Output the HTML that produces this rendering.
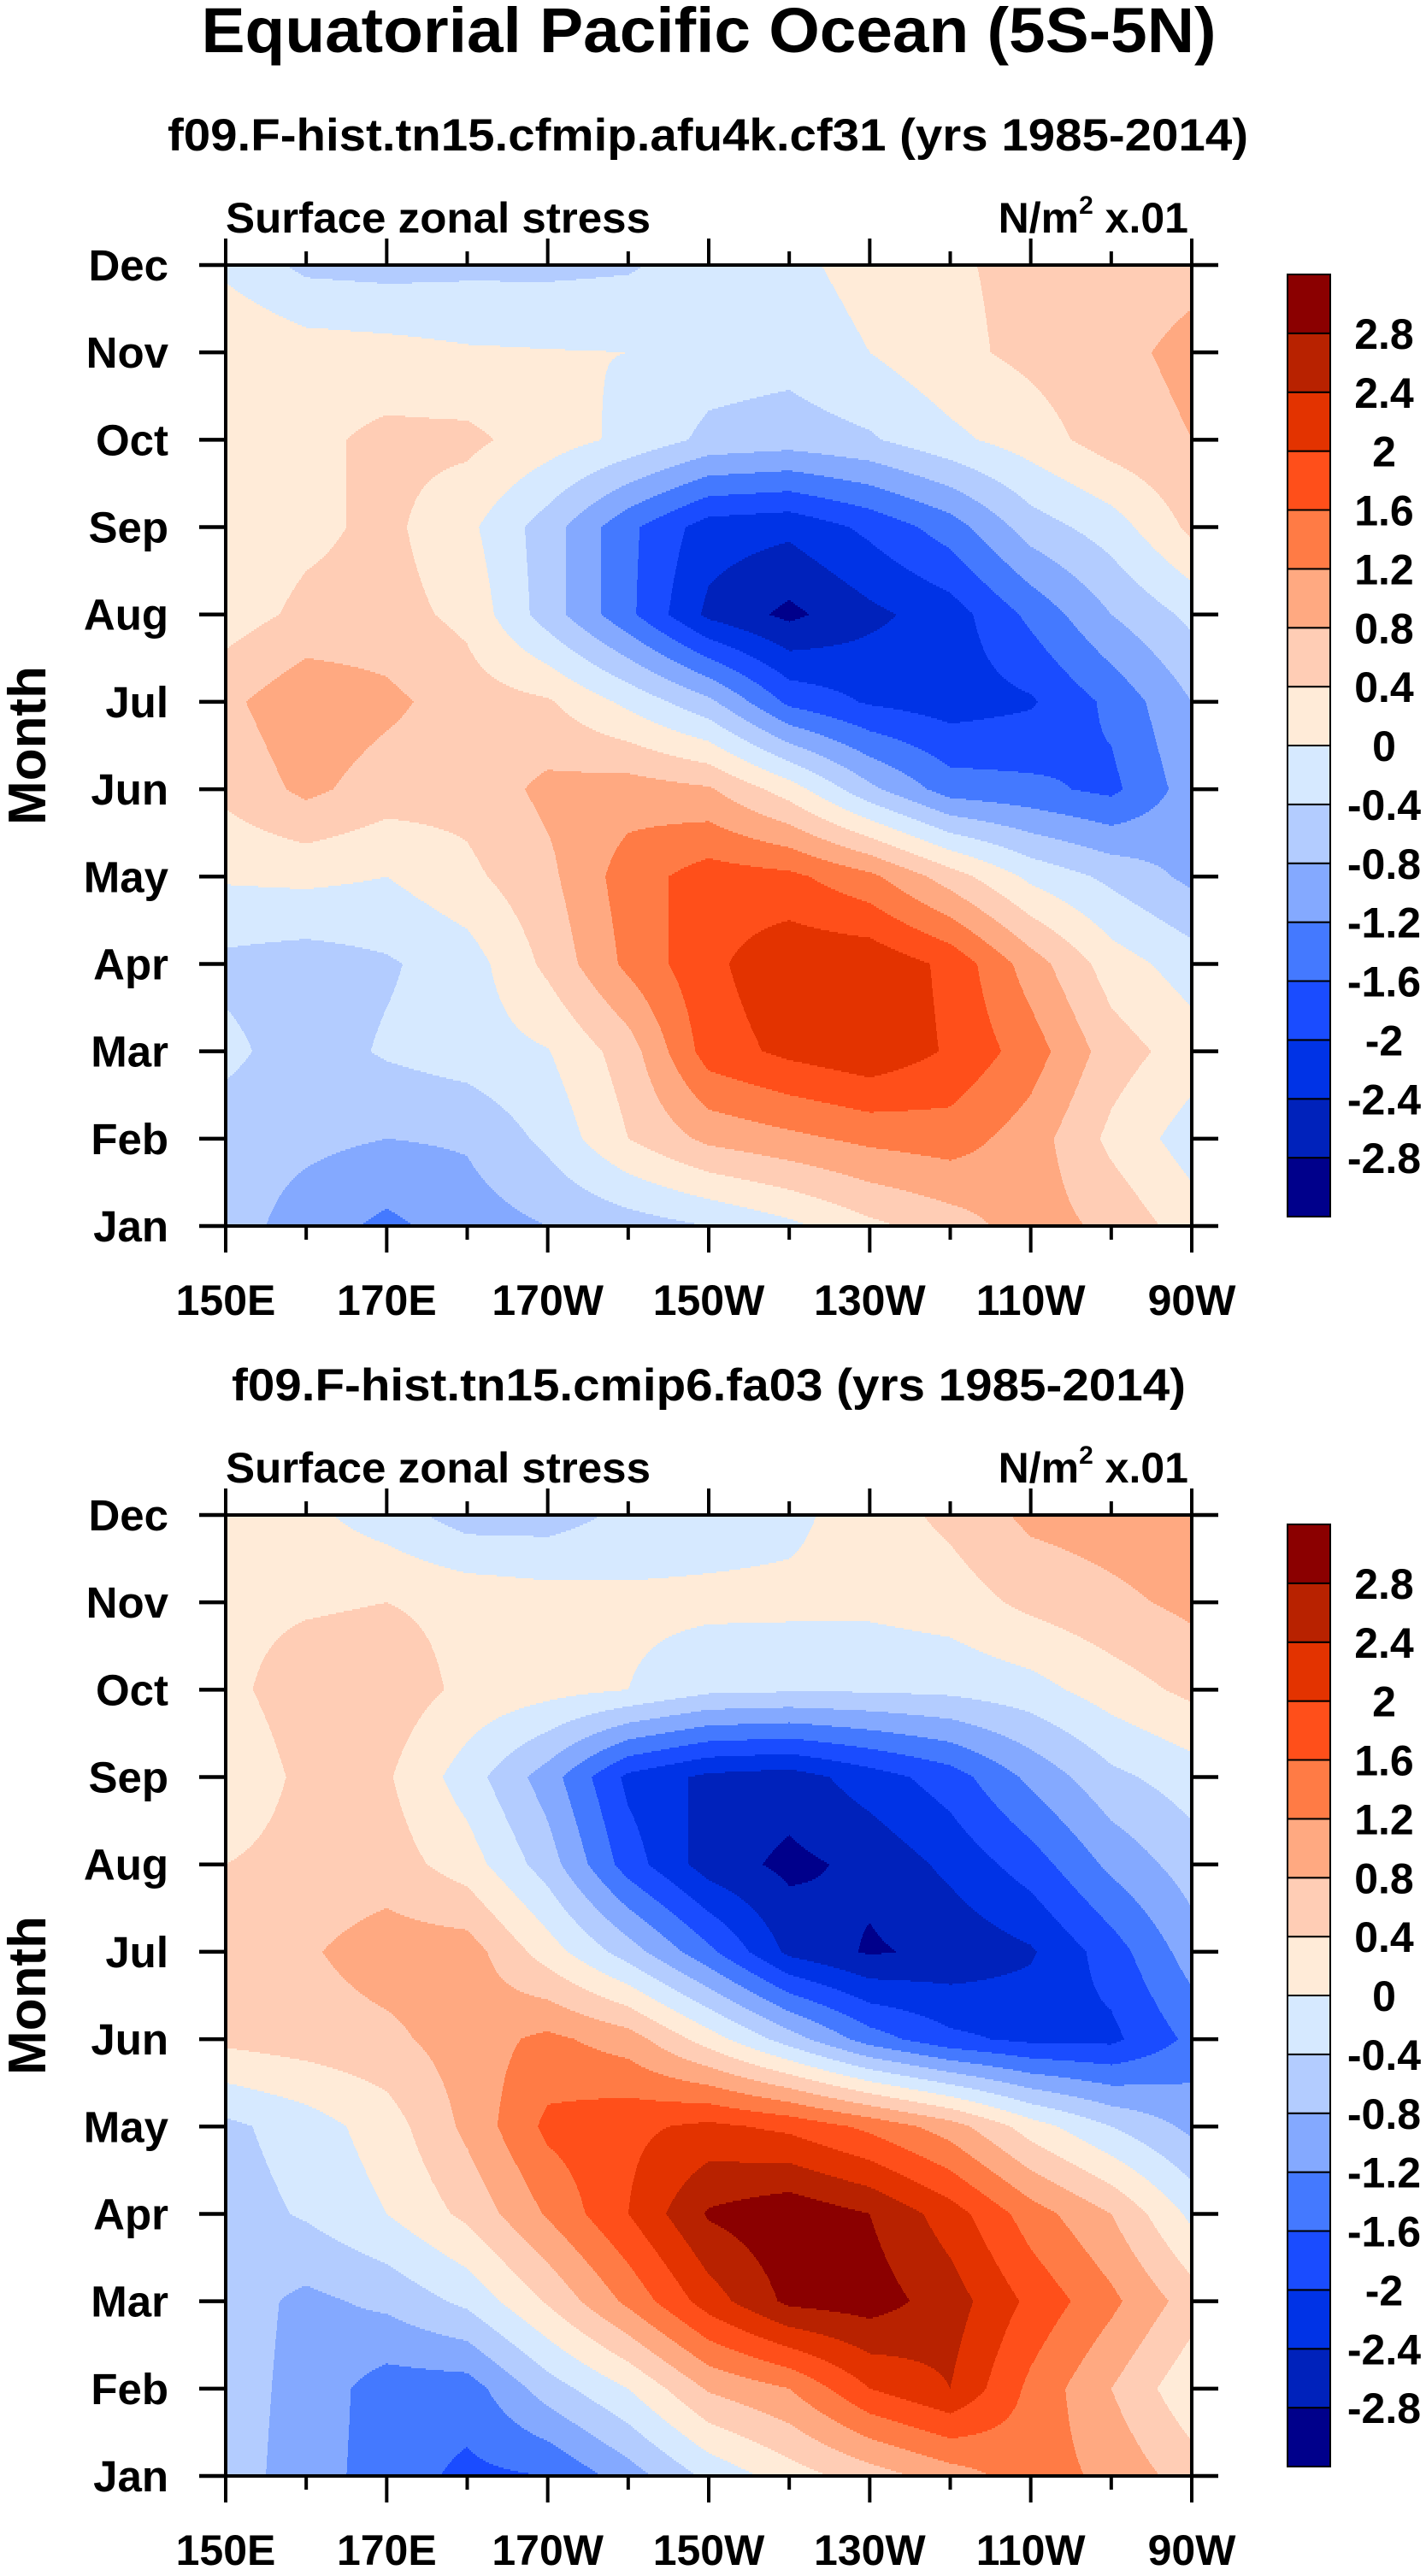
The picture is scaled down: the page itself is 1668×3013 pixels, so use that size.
<!DOCTYPE html>
<html><head><meta charset="utf-8"><style>
html,body{margin:0;padding:0;background:#fff}
svg text{font-family:"Liberation Sans",Arial,sans-serif;font-weight:bold;fill:#000}
</style></head><body>
<svg id="fig" xmlns="http://www.w3.org/2000/svg" width="1668" height="3008" viewBox="0 0 1668 3008">
<text x="829" y="61" font-size="74" text-anchor="middle" textLength="1187" lengthAdjust="spacingAndGlyphs">Equatorial Pacific Ocean (5S-5N)</text>
<g id="g1"></g>
<g id="g2"></g>
</svg>
<script>
const lons=[150,160,170,180,190,200,210,220,230,240,250,260,270];
const months=['Jan','Feb','Mar','Apr','May','Jun','Jul','Aug','Sep','Oct','Nov','Dec'];
const xTickLons=[150,170,190,210,230,250,270];
const xTickLabels=['150E','170E','170W','150W','130W','110W','90W'];
const levels=[-2.8,-2.4,-2,-1.6,-1.2,-0.8,-0.4,0,0.4,0.8,1.2,1.6,2,2.4,2.8];
const levelLabels=['-2.8','-2.4','-2','-1.6','-1.2','-0.8','-0.4','0','0.4','0.8','1.2','1.6','2','2.4','2.8'];
const colors=['#00008b','#0022bb','#0033e6','#1a4cff','#4479ff','#84a9ff','#b3ccff','#d6e9ff','#ffebd8','#ffcdb5','#ffa981','#ff7b45','#ff4f1a','#e33300','#b82200','#8b0000'];
// rows Jan..Dec, columns lons
const stressCf31=[
[-0.6,-1.0,-1.3,-1.0,-0.8,-0.6,-0.4,-0.1,0.3,0.6,1.0,0.7,0.2],
[-0.6,-0.7,-0.8,-0.75,-0.3,0.4,0.9,1.1,1.3,1.4,1.0,0.3,-0.2],
[-0.3,-0.6,-0.35,-0.2,-0.02,0.6,1.8,2.1,2.3,1.95,1.4,0.6,0.2],
[-0.5,-0.6,-0.45,-0.2,0.5,1.3,1.9,2.3,2.3,1.9,1.0,0.2,-0.2],
[0.05,0.1,0.0,0.3,0.7,1.4,1.8,1.7,1.3,0.6,-0.1,-0.5,-0.9],
[0.5,0.9,0.6,0.55,0.9,1.0,0.85,0.2,-0.7,-1.4,-1.5,-1.7,-1.0],
[0.7,1.1,0.9,0.6,0.45,-0.1,-0.7,-1.7,-2.05,-2.2,-2.05,-1.5,-0.8],
[0.2,0.5,0.55,0.3,-0.6,-1.5,-2.5,-2.9,-2.5,-2.2,-1.5,-0.8,-0.3],
[0.1,0.3,0.5,0.1,-0.6,-1.5,-2.2,-2.3,-1.9,-1.4,-0.6,-0.2,0.5],
[0.2,0.3,0.5,0.5,0.2,-0.1,-0.5,-0.6,-0.45,-0.1,0.2,0.6,0.8],
[0.4,0.2,0.15,0.05,0.02,0.0,-0.2,-0.25,0.0,0.3,0.5,0.7,0.9],
[-0.1,-0.5,-0.55,-0.5,-0.5,-0.45,-0.2,-0.1,0.15,0.35,0.5,0.6,0.7]];
const stressFa03=[
[-0.6,-1.0,-1.4,-1.7,-1.6,-1.0,-0.3,0.2,0.6,1.0,1.4,1.1,0.6],
[-0.6,-0.95,-1.4,-1.4,-0.6,0.0,0.85,1.2,2.0,2.4,1.5,0.8,0.1],
[-0.6,-0.9,-0.7,-0.3,0.45,1.3,2.2,2.9,3.0,2.6,1.9,1.3,0.6],
[-0.6,-0.35,0.0,0.5,1.25,2.0,2.85,3.1,2.8,2.2,1.4,0.8,-0.1],
[-0.5,-0.2,0.2,0.9,1.7,1.9,2.1,1.9,1.5,1.0,0.2,-0.4,-0.9],
[0.5,0.6,0.7,1.0,1.3,1.0,0.2,-0.6,-1.4,-1.9,-2.1,-2.1,-1.5],
[0.5,0.75,1.0,1.0,0.2,-0.6,-1.5,-2.5,-2.85,-2.7,-2.45,-1.8,-1.0],
[0.4,0.55,0.6,0.2,-0.6,-1.8,-2.6,-2.9,-2.7,-2.3,-1.8,-1.1,-0.6],
[0.1,0.5,0.45,-0.2,-1.0,-2.1,-2.5,-2.6,-2.2,-1.8,-1.1,-0.5,-0.2],
[0.3,0.6,0.65,0.3,0.15,0.0,-0.3,-0.35,-0.35,-0.3,-0.15,0.2,0.5],
[0.3,0.35,0.4,0.3,0.2,0.1,0.1,0.1,0.1,0.2,0.5,0.7,0.9],
[0.2,0.1,-0.2,-0.6,-0.6,-0.3,-0.2,-0.1,0.2,0.5,0.9,1.0,1.1]];

const NS='http://www.w3.org/2000/svg';
function mk(tag,attrs,parent){const e=document.createElementNS(NS,tag);for(const k in attrs)e.setAttribute(k,attrs[k]);parent.appendChild(e);return e;}
function binOf(v){let i=0;while(i<levels.length&&v>=levels[i])i++;return i;}

function drawPanel(g,data,top,subtitle,subX1,subX2){
  const L=264,R=1394,W=R-L,H=1124,B=top+H;
  const xs=lon=>L+(lon-lons[0])/(lons[lons.length-1]-lons[0])*W;
  const ys=m=>B-m/(months.length-1)*H;
  const st=mk('text',{x:(subX1+subX2)/2,y:top-134,'font-size':53,'text-anchor':'middle',textLength:subX2-subX1,lengthAdjust:'spacingAndGlyphs'},g);
  
  
  st.textContent=subtitle;
  const lt=mk('text',{x:L,y:top-38,'font-size':50,textLength:497,lengthAdjust:'spacingAndGlyphs'},g);
  
  
  lt.textContent='Surface zonal stress';
  const ut=mk('text',{x:R-4,y:top-38,'font-size':50,'text-anchor':'end'},g);
  
  
  ut.innerHTML='N/m<tspan dy="-22" font-size="30">2</tspan><tspan dy="22"> x.01</tspan>';
  // contour fill
  const fill=mk('g',{'shape-rendering':'crispEdges'},g);
  
  
  const nI=lons.length-1,nJ=months.length-1,rowH=2;
  function val(px,py){
    const u=Math.min(nI-1e-9,Math.max(0,px/W*nI)),v=Math.min(nJ-1e-9,Math.max(0,(H-py)/H*nJ));
    const i=Math.floor(u),j=Math.floor(v),fu=u-i,fv=v-j;
    return data[j][i]*(1-fu)*(1-fv)+data[j][i+1]*fu*(1-fv)+data[j+1][i]*(1-fu)*fv+data[j+1][i+1]*fu*fv;
  }
  for(let py=0;py<H;py+=rowH){
    let start=0,cur=binOf(val(0.5,py+rowH/2));
    for(let px=1;px<=W;px++){
      const b=px<W?binOf(val(px+0.5,py+rowH/2)):-1;
      if(b!==cur){
        const r=mk('rect',{x:L+start,y:top+py,width:px-start,height:Math.min(rowH,H-py),fill:colors[cur]},fill);
        
        
        start=px;cur=b;
      }
    }
  }
  // frame
  const fr=mk('rect',{x:L,y:top,width:W,height:H,fill:'none',stroke:'#000','stroke-width':4},g);
  
  
  // month ticks + labels
  months.forEach((m,k)=>{
    const y=ys(k);
    const t1=mk('line',{x1:L-31,x2:L,y1:y,y2:y,stroke:'#000','stroke-width':4.5},g);
    
    
    const t2=mk('line',{x1:R,x2:R+31,y1:y,y2:y,stroke:'#000','stroke-width':4.5},g);
    
    
    const tx=mk('text',{x:197,y:y+18,'font-size':51,'text-anchor':'end'},g);
    
    
    tx.textContent=m;
  });
  const yt=mk('text',{x:53,y:(top+B)/2,'font-size':62,'text-anchor':'middle',transform:`rotate(-90 53 ${(top+B)/2})`},g);
  
  
  yt.textContent='Month';
  // lon ticks
  for(let lon=lons[0];lon<=lons[lons.length-1];lon+=10){
    const x=xs(lon),major=xTickLons.includes(lon),len=major?31:16;
    const a=mk('line',{x1:x,x2:x,y1:B,y2:B+len,stroke:'#000','stroke-width':4},g);
    
    
    const b=mk('line',{x1:x,x2:x,y1:top-len,y2:top,stroke:'#000','stroke-width':4},g);
    
    
  }
  xTickLons.forEach((lon,k)=>{
    const t=mk('text',{x:xs(lon),y:B+104,'font-size':50,'text-anchor':'middle'},g);
    
    
    t.textContent=xTickLabels[k];
  });
  // colorbar
  const cbT=top+11,cbB=top+1113,cbL=1506,cbW=50,n=colors.length,bh=(cbB-cbT)/n;
  const cb=mk('g',{},g);
  
  
  colors.forEach((c,k)=>{
    const r=mk('rect',{x:cbL,y:cbB-(k+1)*bh,width:cbW,height:bh,fill:c,stroke:'#000','stroke-width':2},cb);
    
    
  });
  levels.forEach((lv,k)=>{
    const t=mk('text',{x:1619,y:cbB-(k+1)*bh+18,'font-size':50,'text-anchor':'middle'},cb);
    
    
    t.textContent=levelLabels[k];
  });
}
drawPanel(document.getElementById('g1'),stressCf31,310,'f09.F-hist.tn15.cfmip.afu4k.cf31 (yrs 1985-2014)',196,1460);
drawPanel(document.getElementById('g2'),stressFa03,1772,'f09.F-hist.tn15.cmip6.fa03 (yrs 1985-2014)',271,1387);
</script>
</body></html>
